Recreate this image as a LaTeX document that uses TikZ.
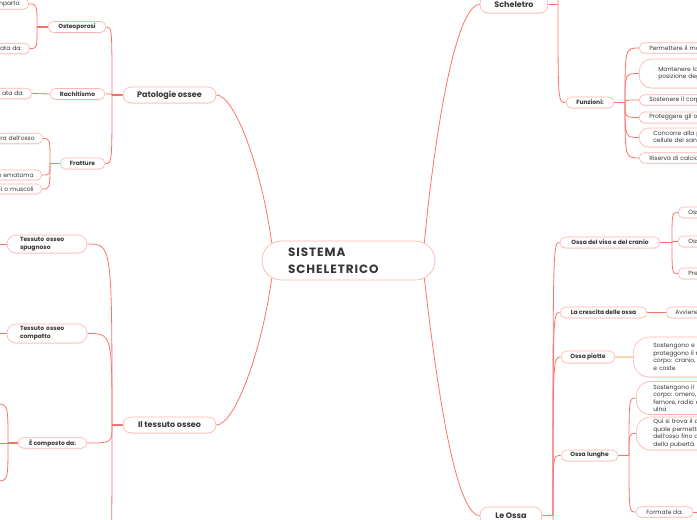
\documentclass[tikz,border=0pt]{standalone}
\usepackage{fontspec}
\setmainfont{Poppins}
\newfontfamily\spacedfont[LetterSpace=8]{Poppins}
\usetikzlibrary{backgrounds,shadows}
\definecolor{linec}{HTML}{F9736B}
\definecolor{bordc}{HTML}{FFB3AD}
\definecolor{peach}{HTML}{FFD3B8}
\definecolor{txt}{HTML}{363636}
\begin{document}
\begin{tikzpicture}[x=1pt,y=-1pt,
  box/.style={draw=bordc, line width=0.6pt, fill=white, text=txt, inner sep=0pt,
    drop shadow={shadow xshift=0pt, shadow yshift=-0.8pt, opacity=0.12}},
  lone/.style={box, rounded corners=8pt, minimum height=16pt, font=\fontsize{8}{9}\selectfont\bfseries},
  ltwo/.style={box, rounded corners=5.5pt, minimum height=11pt, font=\fontsize{6}{8}\selectfont\bfseries},
  lthree/.style={box, rounded corners=5pt, minimum height=10.5pt, font=\fontsize{6}{7.5}\selectfont},
  lclip/.style={lthree, anchor=east, inner xsep=8pt, text width=60pt, align=right},
  rclip/.style={lthree, anchor=west, inner xsep=10pt, text width=100pt, align=left},
  conn/.style={draw=linec, line width=0.8pt},
  stub/.style={draw=linec, line width=1.3pt}
]
\useasboundingbox (0,0) rectangle (697,520);
\clip (0,0) rectangle (697,520);

% central
\node[draw=bordc, line width=0.7pt, fill=white, rounded corners=19.5pt, minimum width=173pt,
  minimum height=39pt, text width=121pt, inner xsep=26pt, inner ysep=0pt, align=left,
  font=\fontsize{12}{17}\spacedfont\bfseries, text=txt] (c) at (348.5,260.5) {SISTEMA\\SCHELETRICO};

% ---------- left: Patologie ossee
\node[lone, minimum width=93pt] (pat) at (169.5,95) {Patologie ossee};
\node[ltwo, minimum width=58pt] (ost) at (77,27) {Osteoporosi};
\node[ltwo, minimum width=55pt] (rach) at (77.5,94) {Rachitismo};
\node[ltwo, minimum width=45pt] (frat) at (82.5,163.5) {Fratture};
\node[lclip] (o1) at (29,4) {mparto:};
\node[lclip] (o2) at (30,48.5) {ata da:};
\node[lclip] (r1) at (32,93.5) {ata da:};
\node[lclip] (f1) at (43,138.5) {ra dell’osso};
\node[lclip, minimum height=10pt] (f2) at (42,175) {n ematoma};
\node[lclip, minimum height=10pt] (f3) at (42,189) {ni o muscoli};
\coordinate (patJ) at (112,95);
\coordinate (ostJ) at (37,27);
\coordinate (fratJ) at (50,163.5);

% ---------- left: Il tessuto osseo
\node[lone, minimum width=93pt] (ti) at (169.5,425) {Il tessuto osseo};
\node[ltwo, minimum height=18pt, rounded corners=9pt, text width=54pt, align=left, inner xsep=13pt] (tos) at (47,244) {Tessuto osseo\\spugnoso};
\node[ltwo, minimum height=19pt, rounded corners=9pt, text width=54pt, align=left, inner xsep=13pt] (toc) at (47,333.5) {Tessuto osseo\\compatto};
\node[ltwo, minimum width=69pt, minimum height=10.5pt] (comp) at (52.5,443) {È composto da:};
\coordinate (tiJ) at (112,425);
\coordinate (compJ) at (8,443);
\coordinate (tosL) at (-6,244);
\coordinate (tocL) at (-6,333.5);
\coordinate (cc1) at (-4,404);
\coordinate (cc2) at (-6,443);
\coordinate (cc3) at (-4,481);
\coordinate (tiB) at (87,600);

% ---------- right: Scheletro
\node[lone, minimum width=68pt, minimum height=17pt] (sch) at (514,4.5) {Scheletro};
\coordinate (schJ) at (558,4.5);
\coordinate (schU) at (572,-60);
\node[ltwo, minimum width=48pt] (fun) at (590,102.5) {Funzioni:};
\coordinate (funJ) at (625,102.5);
\node[rclip] (fu1) at (639,48) {Permettere il mo};
\node[rclip, minimum height=29pt, rounded corners=12pt, inner xsep=19pt, text width=82pt] (fu2) at (639,73.5) {Mantenere la\\posizione deg};
\node[rclip] (fu3) at (639,100) {Sostenere il corpo};
\node[rclip, minimum height=11pt] (fu4) at (639,117.5) {Proteggere gli o};
\node[rclip, minimum height=19pt, rounded corners=9pt, inner xsep=14pt, text width=92pt] (fu5) at (639,137.5) {Concorre alla p\\cellule del sang};
\node[rclip] (fu6) at (639,158) {Riserva di calcio};

% ---------- right: Le Ossa
\node[lone, minimum width=62pt, minimum height=17pt] (ossa) at (511,515.5) {Le Ossa};
\coordinate (ossaJ) at (553,515.5);
\coordinate (ossaB) at (565,580);
\node[ltwo, minimum width=100pt] (ov) at (610,242.5) {Ossa del viso e del cranio};
\node[ltwo, minimum width=87pt] (cr) at (603.5,312.5) {La crescita delle ossa};
\node[ltwo, minimum width=54pt, minimum height=12pt] (op) at (588,357) {Ossa piatte};
\node[ltwo, minimum width=57pt] (ol) at (589.5,455.5) {Ossa lunghe};
\coordinate (ovJ) at (672,242.5);
\node[rclip, minimum height=11pt] (ov1) at (678,212.5) {Oss};
\node[rclip, minimum height=11pt] (ov2) at (678,241.5) {Oss};
\node[rclip, minimum height=11pt] (ov3) at (678,273.5) {Pre};
\node[rclip, minimum height=11pt, inner xsep=9pt] (cr1) at (666,312.5) {Avviene};
\node[rclip, minimum height=40pt, rounded corners=16pt, inner xsep=20pt, text width=90pt] (op1) at (633,357) {Sostengono e\\proteggono il m\\corpo: cranio, b\\e coste};
\coordinate (olJ) at (629,455.5);
\node[rclip, minimum height=33pt, rounded corners=14pt, inner xsep=17pt, text width=90pt] (ol1) at (636,398) {Sostengono il\\corpo: omero,\\femore, radio e\\ulna};
\node[rclip, minimum height=33pt, rounded corners=14pt, inner xsep=17pt, text width=90pt] (ol2) at (636,433.5) {Qui si trova il di\\quale permette\\dell’osso fino al\\della pubertà};
\node[lthree, minimum width=57pt] (ol3) at (664.5,512) {Formate da:};
\coordinate (ol3R) at (715,512);

\begin{pgfonlayer}{background}
% central branches
\draw[conn] ([xshift=10pt,yshift=-2pt]c.north west) .. controls (262,170) and (235,95) .. (pat.east);
\draw[conn] ([xshift=10pt,yshift=2pt]c.south west) .. controls (262,350) and (235,425) .. (ti.east);
\draw[conn] ([xshift=-11pt,yshift=-2pt]c.north east) .. controls (434,140) and (455,4.5) .. (sch.west);
\draw[conn] ([xshift=-11pt,yshift=2pt]c.south east) .. controls (436,380) and (455,515.5) .. (ossa.west);

% Patologie ossee
\draw[stub] (pat.west) -- (patJ);
\draw[conn] (patJ) .. controls (patJ |- ost.east) .. (ost.east);
\draw[conn] (patJ) .. controls (patJ |- rach.east) .. (rach.east);
\draw[conn] (patJ) .. controls (patJ |- frat.east) .. (frat.east);
\draw[stub] (ost.west) -- (ostJ);
\draw[conn] (ostJ) .. controls (ostJ |- o1.east) .. (o1.east);
\draw[conn] (ostJ) .. controls (ostJ |- o2.east) .. (o2.east);
\draw[conn] (rach.west) -- (r1.east);
\draw[stub] (frat.west) -- (fratJ);
\draw[conn] (fratJ) .. controls (fratJ |- f1.east) .. (f1.east);
\draw[conn] (fratJ) .. controls (fratJ |- f2.east) .. (f2.east);
\draw[conn] (fratJ) .. controls (fratJ |- f3.east) .. (f3.east);

% Il tessuto osseo
\draw[stub] (ti.west) -- (tiJ);
\draw[conn] (tiJ) .. controls (tiJ |- tos.east) .. (tos.east);
\draw[conn] (tiJ) .. controls (tiJ |- toc.east) .. (toc.east);
\draw[conn] (tiJ) .. controls (tiJ |- comp.east) .. (comp.east);
\draw[conn] (tiJ) .. controls (tiJ |- tiB) .. (tiB);
\draw[conn] (tos.west) -- (tosL);
\draw[conn] (toc.west) -- (tocL);
\draw[stub] (comp.west) -- (compJ);
\draw[conn] (compJ) .. controls (compJ |- cc1) .. (cc1);
\draw[conn] (compJ) -- (cc2);
\draw[conn] (compJ) .. controls (compJ |- cc3) .. (cc3);

% Scheletro
\draw[stub] (sch.east) -- (schJ);
\draw[conn] (schJ) .. controls (schJ |- schU) .. (schU);
\draw[conn] (schJ) .. controls (schJ |- fun.west) .. (fun.west);
\draw[stub] (fun.east) -- (funJ);
\foreach \n in {fu1,fu2,fu3,fu4,fu5,fu6}
  \draw[conn] (funJ) .. controls (funJ |- \n.west) .. (\n.west);

% Le Ossa
\draw[stub] (ossa.east) -- (ossaJ);
\foreach \n in {ov,cr,op,ol}
  \draw[conn] (ossaJ) .. controls (ossaJ |- \n.west) .. (\n.west);
\draw[conn] (ossaJ) .. controls (ossaJ |- ossaB) .. (ossaB);
\draw[stub] (ov.east) -- (ovJ);
\foreach \n in {ov1,ov2,ov3}
  \draw[conn] (ovJ) .. controls (ovJ |- \n.west) .. (\n.west);
\draw[conn] (cr.east) -- (cr1.west);
\draw[draw=peach, line width=1.6pt] (op.east) -- (op1.west);
\draw[stub] (ol.east) -- (olJ);
\foreach \n in {ol1,ol2,ol3}
  \draw[conn] (olJ) .. controls (olJ |- \n.west) .. (\n.west);
\draw[conn] (ol3.east) -- (ol3R);
\end{pgfonlayer}
\end{tikzpicture}
\end{document}
